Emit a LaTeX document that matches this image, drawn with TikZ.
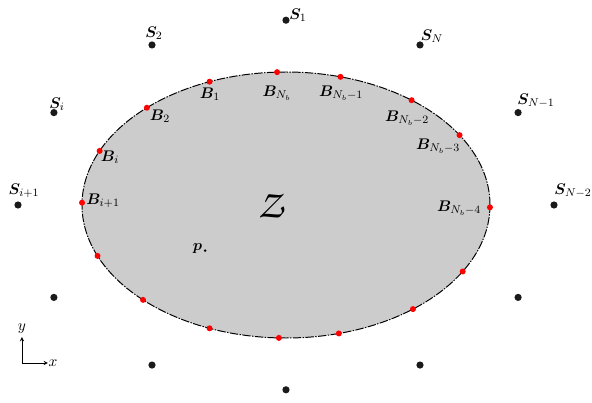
\documentclass[tikz,border=0pt]{standalone}
\usepackage{amsmath,amssymb}
\usepackage{bm}
\usepackage{tikz}
\usetikzlibrary{arrows,positioning,calc}
\DeclareMathAlphabet{\mathpzc}{OT1}{pzc}{m}{it}
\definecolor{zonegray}{HTML}{CCCCCC}
\definecolor{bndred}{HTML}{FF0000}
\definecolor{srcblack}{HTML}{1A1A1A}
\tikzset{
  zone/.style={fill=zonegray, draw=black, line width=0.7pt,
               dash pattern=on 6pt off 1pt on 1pt off 1pt},
  srcpt/.style={circle, fill=srcblack, inner sep=0pt, minimum size=0.18cm},
  bndpt/.style={circle, fill=bndred, inner sep=0pt, minimum size=0.15cm},
  ppt/.style={circle, fill=black, inner sep=0pt, minimum size=0.07cm},
  plbl/.style={inner sep=0pt, font=\fontsize{11}{13}\selectfont},
  tax/.style={->, >=stealth, thin},
}

\begin{document}
\begin{tikzpicture}
  \useasboundingbox (-7.15,-4.95) rectangle (7.65,5.125);

  % Domain
  \draw[zone] (0,0) ellipse [x radius=5.1, y radius=3.325];
  \node[font=\fontsize{28}{30}\selectfont] (zl) at (-0.375,-0.025) {$\bm{\mathpzc{Z}}$};

  % Sources
  \foreach \a/\n in {0/sNm2, 30/sNm1, 60/sN, 90/s1, 120/s2, 150/si, 180/sip1,
                     210/s8, 240/s9, 270/s10, 300/s11, 330/s12}
    \node[srcpt] (\n) at ({6.7*cos(\a)},{4.62*sin(\a)}) {};

  % Boundary points
  \foreach \a/\n in {92.5/bNb, 112/b1, 133/b2, 156/bi, 179/bip1, 202.5/b6,
                     225.5/b7, 248/b8, 268/b9, 285/b10, 308.5/b11, 330/b12,
                     359/bNb4, 31.7/bNb3, 52/bNb2, 74.5/bNb1}
    \node[bndpt] (\n) at ({5.1*cos(\a)},{3.325*sin(\a)}) {};

  % Source labels
  \node[plbl] (ls1)   at (0.3,4.75)    {$\bm{S}_1$};
  \node[plbl] (ls2)   at (-3.3,4.3)    {$\bm{S}_2$};
  \node[plbl] (lsN)   at (3.65,4.225)  {$\bm{S}_N$};
  \node[plbl] (lsNm1) at (6.25,2.6)    {$\bm{S}_{N-1}$};
  \node[plbl] (lsNm2) at (7.175,0.35)  {$\bm{S}_{N-2}$};
  \node[plbl] (lsi)   at (-5.725,2.525){$\bm{S}_i$};
  \node[plbl] (lsip1) at (-6.55,0.35)  {$\bm{S}_{i+1}$};

  % Boundary labels
  \node[plbl] (lbNb)  at (-0.225,2.8)  {$\bm{B}_{N_b}$};
  \node[plbl] (lb1)   at (-1.9,2.775)  {$\bm{B}_1$};
  \node[plbl] (lb2)   at (-3.15,2.225) {$\bm{B}_2$};
  \node[plbl] (lbi)   at (-4.4,1.2)    {$\bm{B}_i$};
  \node[plbl] (lbip1) at (-4.575,0.1)  {$\bm{B}_{i+1}$};
  \node[plbl] (lbNb1) at (1.375,2.8)   {$\bm{B}_{N_b-1}$};
  \node[plbl] (lbNb2) at (3.025,2.175) {$\bm{B}_{N_b-2}$};
  \node[plbl] (lbNb3) at (3.8,1.475)   {$\bm{B}_{N_b-3}$};
  \node[plbl] (lbNb4) at (4.325,-0.075){$\bm{B}_{N_b-4}$};

  % Point p
  \node[plbl] (lp) at (-2.2125,-1.0875) {$\bm{p}$};
  \node[ppt] (p) at (-2.02,-1.14) {};

  % Axes
  \coordinate (o)  at (-6.6,-3.95);
  \coordinate (ax) at (-5.95,-3.95);
  \coordinate (ay) at (-6.6,-3.3);
  \draw[tax] (o) -- (ax);
  \draw[tax] (o) -- (ay);
  \node[plbl] (lx) at (-5.825,-3.95) {$x$};
  \node[plbl] (ly) at (-6.6,-3.1)    {$y$};
\end{tikzpicture}
\end{document}
